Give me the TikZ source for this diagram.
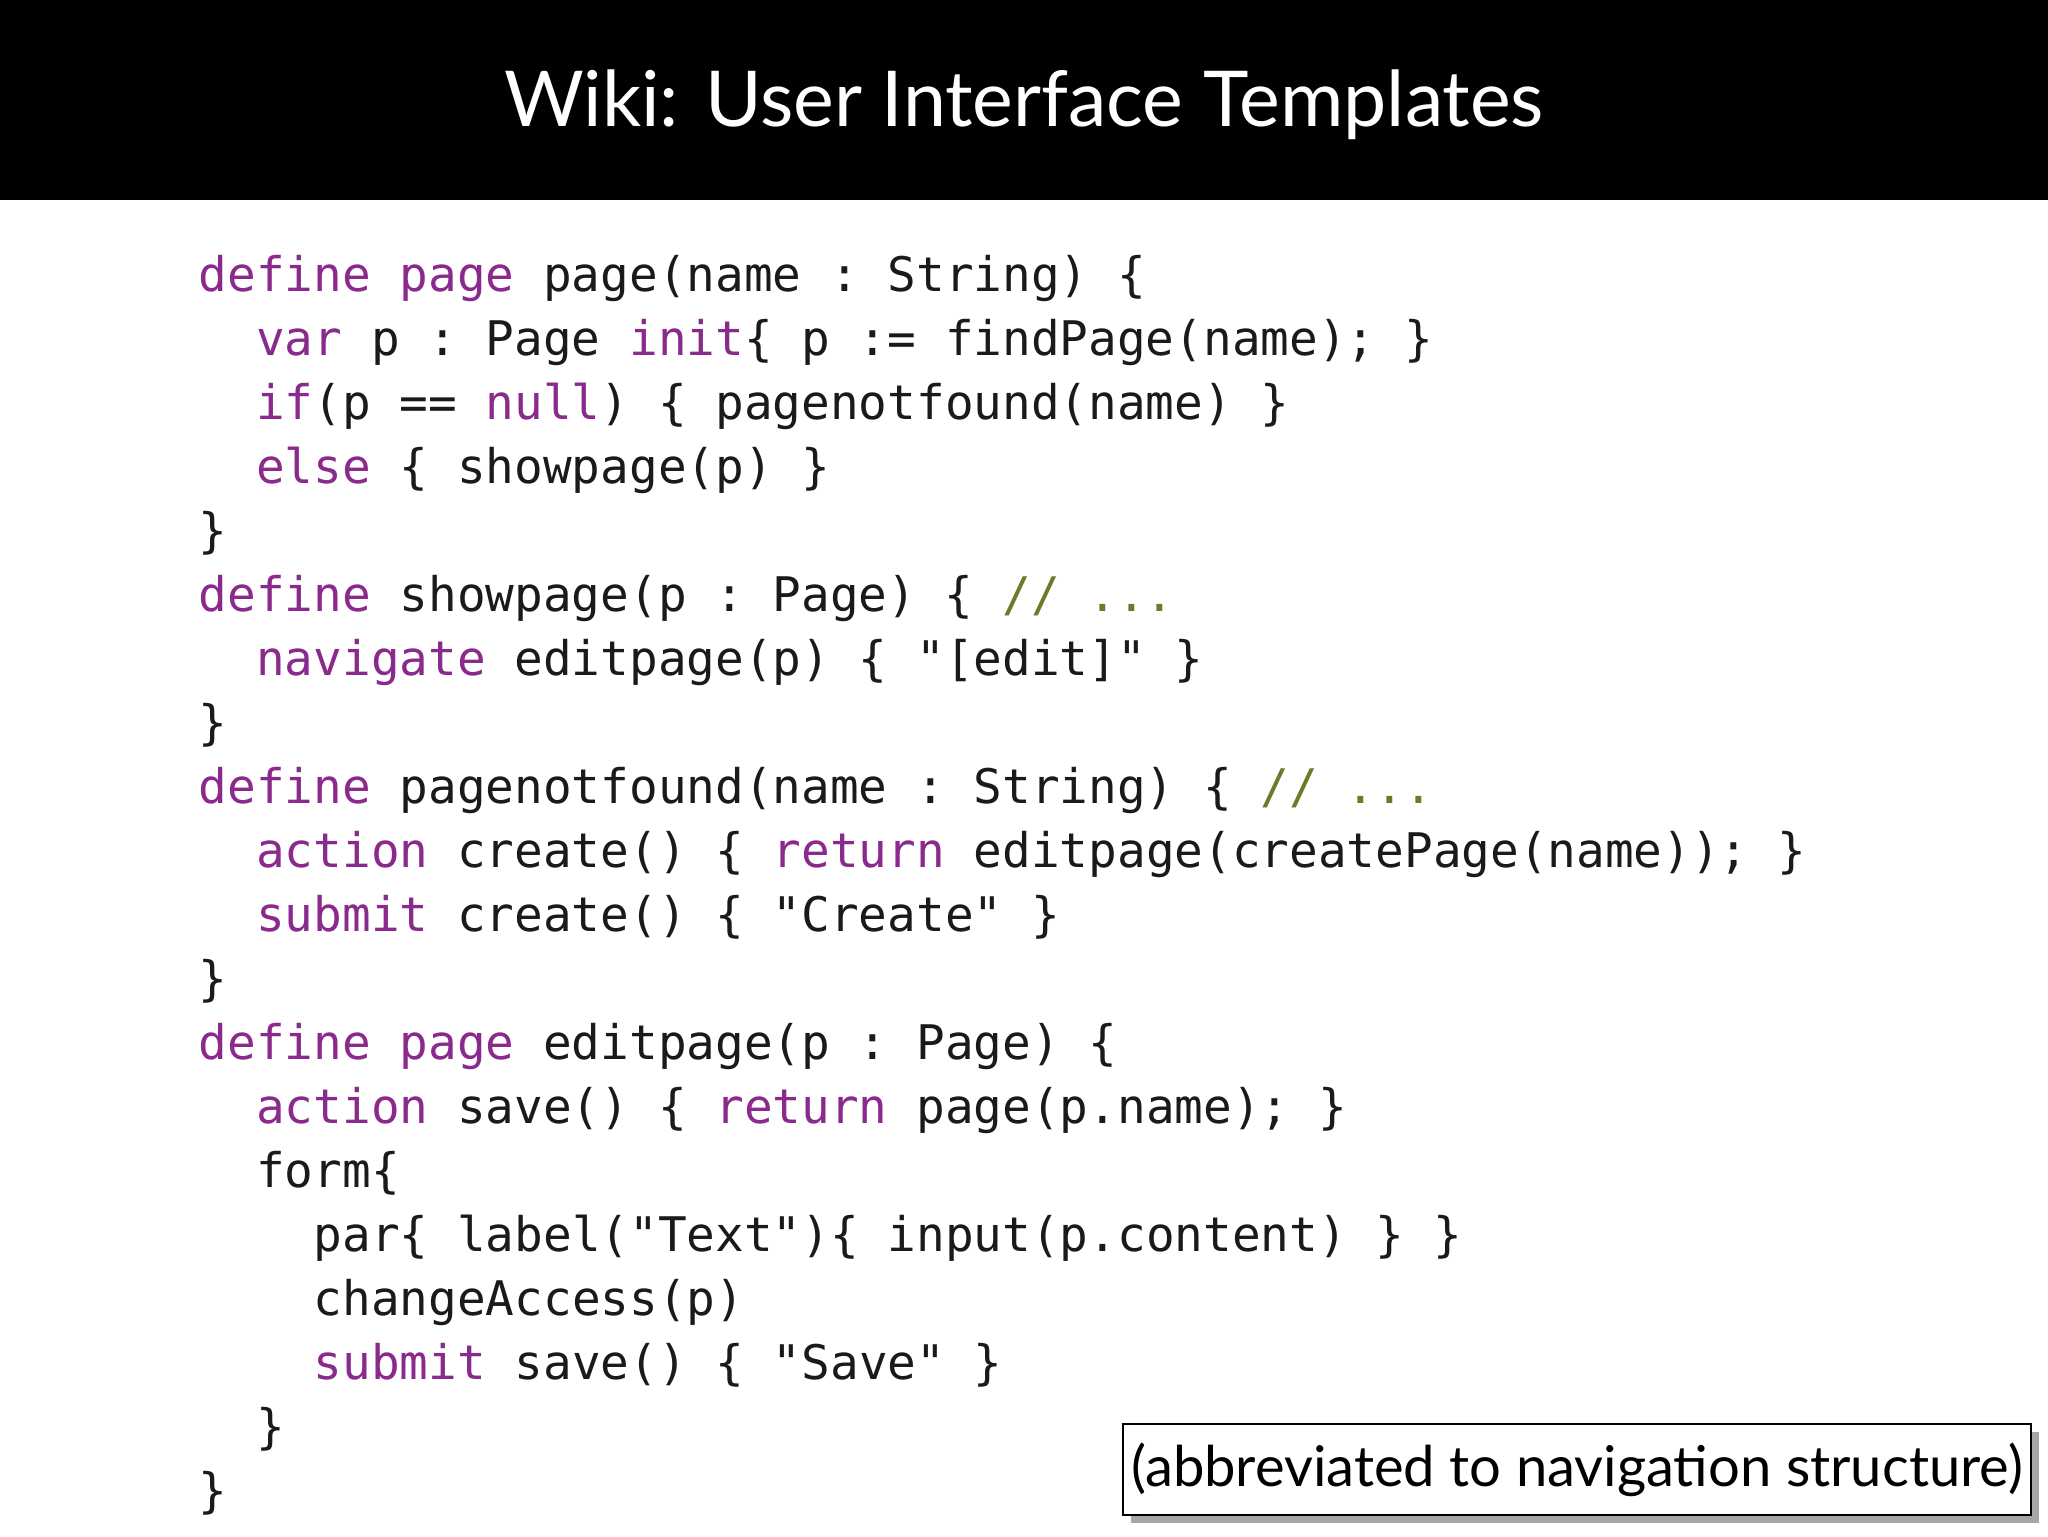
\documentclass[tikz,border=0pt]{standalone}
\usepackage{fontspec}
\setmainfont{Lato}
\setmonofont{DejaVu Sans Mono}
\definecolor{kw}{HTML}{8A2A8C}
\definecolor{cm}{HTML}{6E7A2A}
\definecolor{tx}{HTML}{1A1A1A}
\newcommand{\kw}[1]{\textcolor{kw}{#1}}
\newcommand{\cm}[1]{\textcolor{cm}{#1}}
\begin{document}
\begin{tikzpicture}[x=1pt,y=-1pt,
  code/.style={anchor=base west,inner sep=0pt,font=\fontsize{36.5}{40}\ttfamily,text=tx}]
\useasboundingbox (0,0) rectangle (1568,1176);
\fill[white] (0,0) rectangle (1568,1176);
\fill[black] (0,0) rectangle (1568,153);
\node[text=white,font=\fontsize{59}{66}\selectfont] (title) at (784,80) {Wiki: User Interface Templates};
\def\L#1#2#3{\node[code] (l#1) at (#2,{223+49*#1}) {#3};}
\L{0}{152}{\kw{define page} page(name : String) \{}
\L{1}{196}{\kw{var} p : Page \kw{init}\{ p := findPage(name); \}}
\L{2}{196}{\kw{if}(p == \kw{null}) \{ pagenotfound(name) \}}
\L{3}{196}{\kw{else} \{ showpage(p) \}}
\L{4}{152}{\}}
\L{5}{152}{\kw{define} showpage(p : Page) \{ \cm{// ...}}
\L{6}{196}{\kw{navigate} editpage(p) \{ "[edit]" \}}
\L{7}{152}{\}}
\L{8}{152}{\kw{define} pagenotfound(name : String) \{ \cm{// ...}}
\L{9}{196}{\kw{action} create() \{ \kw{return} editpage(createPage(name)); \}}
\L{10}{196}{\kw{submit} create() \{ "Create" \}}
\L{11}{152}{\}}
\L{12}{152}{\kw{define page} editpage(p : Page) \{}
\L{13}{196}{\kw{action} save() \{ \kw{return} page(p.name); \}}
\L{14}{196}{form\{}
\L{15}{240}{par\{ label("Text")\{ input(p.content) \} \}}
\L{16}{240}{changeAccess(p)}
\L{17}{240}{\kw{submit} save() \{ "Save" \}}
\L{18}{196}{\}}
\L{19}{152}{\}}
\fill[black!35] (866,1096) rectangle (1561,1166);
\node[draw=black,line width=1.5pt,fill=white,minimum width=695,minimum height=70,inner sep=0pt,
  font=\fontsize{43}{46}\selectfont] (note) at (1207.5,1125) {(abbreviated to navigation structure)};
\end{tikzpicture}
\end{document}
